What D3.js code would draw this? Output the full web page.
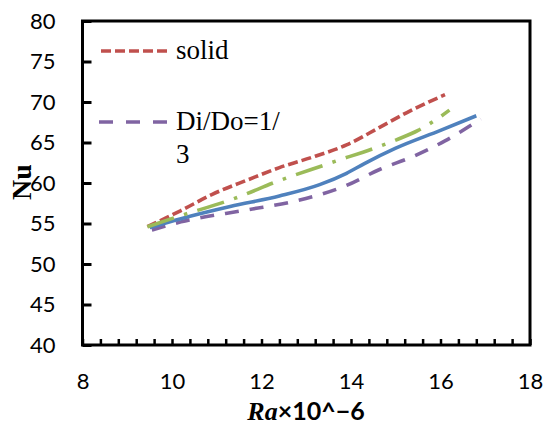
<!DOCTYPE html>
<html><head><meta charset="utf-8">
<script src="https://cdn.jsdelivr.net/npm/d3@7/dist/d3.min.js"></script>
<style>body{margin:0;background:#fff}svg{display:block}</style>
</head><body>
<script>
// Data
const xTicks = [8, 10, 12, 14, 16, 18];
const yTicks = [40, 45, 50, 55, 60, 65, 70, 75, 80];

const solidX = [9.45, 10.2, 10.9, 11.7, 12.4, 13.2, 13.9, 14.65, 15.25, 16.1];
const solidY = [54.6, 56.6, 58.6, 60.4, 61.9, 63.3, 64.7, 66.9, 68.7, 70.9];

const greenX = [9.45, 10.1, 11.4, 12.4, 13.5, 15.0, 15.5, 16.0, 16.2];
const greenY = [54.6, 55.8, 58.1, 60.3, 62.4, 65.3, 66.5, 68.2, 69.0];

const blueX = [9.5, 10.2, 11.3, 12.4, 13.3, 13.9, 14.3, 15.0, 16.0, 16.8];
const blueY = [54.5, 55.6, 57.1, 58.4, 59.8, 61.2, 62.4, 64.3, 66.5, 68.3];

const purpleX = [9.55, 10.2, 11.7, 12.7, 13.9, 14.65, 15.4, 16.1, 16.9];
const purpleY = [54.2, 55.2, 56.7, 57.7, 59.7, 61.7, 63.3, 65.2, 67.9];

const legendLabels = ["solid", "Di/Do=1/", "3"];

const W = 546, H = 437;
const m = {left: 82.5, top: 21, right: 530, bottom: 345};

const svg = d3.select("body").append("svg").attr("width", W).attr("height", H);

const x = d3.scaleLinear().domain([8, 18]).range([m.left, m.right]);
const y = d3.scaleLinear().domain([40, 80]).range([m.bottom, m.top]);

const zip = (xs, ys) => xs.map((v, i) => [v, ys[i]]);

const line = d3.line().x(d => x(d[0])).y(d => y(d[1])).curve(d3.curveMonotoneX);

const series = [
  {data: zip(purpleX, purpleY), color: "#8064A2", dash: "14,11"},
  {data: zip(blueX, blueY), color: "#4F81BD", dash: null},
  {data: zip(solidX, solidY), color: "#C0504D", dash: "10,4"},
  {data: zip(greenX, greenY), color: "#9BBB59", dash: "28,10.5,3.5,10.5"}
];

const g = svg.append("g");
series.forEach(s => {
  g.append("path").attr("d", line(s.data)).attr("fill", "none")
    .attr("stroke", s.color).attr("stroke-width", 3.6)
    .attr("stroke-dasharray", s.dash);
});

// plot border
svg.append("rect").attr("x", m.left).attr("y", m.top)
  .attr("width", m.right - m.left).attr("height", m.bottom - m.top)
  .attr("fill", "none").attr("stroke", "#000").attr("stroke-width", 3);

// Y axis (ticks inside)
const yAxis = d3.axisLeft(y).tickValues(yTicks).tickSize(-9).tickPadding(27).tickFormat(d3.format("d"));
const ya = svg.append("g").attr("transform", `translate(${m.left},0)`).call(yAxis);
ya.select(".domain").remove();
ya.selectAll(".tick line").attr("stroke", "#000").attr("stroke-width", 3);
ya.selectAll(".tick text").attr("font-family", "Lato, 'Open Sans', sans-serif")
  .attr("font-size", 22).attr("fill", "#000");

// X axis minor ticks inside, every 0.4
const minor = d3.range(0, 26).map(i => 8 + i * 0.4);
const xMinor = d3.axisBottom(x).tickValues(minor).tickSize(-6).tickFormat("");
const xm = svg.append("g").attr("transform", `translate(0,${m.bottom})`).call(xMinor);
xm.select(".domain").remove();
xm.selectAll(".tick line").attr("stroke", "#000").attr("stroke-width", 2.5);

const xAxis = d3.axisBottom(x).tickValues(xTicks).tickSize(0).tickPadding(28).tickFormat(d3.format("d"));
const xa = svg.append("g").attr("transform", `translate(0,${m.bottom})`).call(xAxis);
xa.select(".domain").remove();
xa.selectAll(".tick text").attr("font-family", "Lato, 'Open Sans', sans-serif")
  .attr("font-size", 22).attr("fill", "#000");

// axis titles
const xt = svg.append("text").attr("x", 306).attr("y", 420).attr("text-anchor", "middle")
  .attr("font-size", 26).attr("font-weight", "bold");
xt.append("tspan").attr("font-family", "'Liberation Serif', serif").attr("font-style", "italic").text("Ra");
xt.append("tspan").attr("font-family", "Lato, 'Open Sans', sans-serif").attr("font-size", 25).text("×10^−6");

svg.append("text").attr("transform", "translate(31,182) rotate(-90)")
  .attr("text-anchor", "middle").attr("font-family", "'Liberation Serif', serif")
  .attr("font-weight", "bold").attr("font-size", 28).text("Nu");

// legend
const lg = svg.append("g");
lg.append("line").attr("x1", 101).attr("x2", 168).attr("y1", 51).attr("y2", 51)
  .attr("stroke", "#C0504D").attr("stroke-width", 3.6).attr("stroke-dasharray", "10,4");
lg.append("text").attr("x", 176).attr("y", 59).attr("font-family", "'Liberation Serif', serif")
  .attr("font-size", 27).text(legendLabels[0]);
lg.append("line").attr("x1", 99).attr("x2", 168).attr("y1", 122).attr("y2", 122)
  .attr("stroke", "#8064A2").attr("stroke-width", 3.6).attr("stroke-dasharray", "14,13");
lg.append("text").attr("x", 176).attr("y", 130).attr("font-family", "'Liberation Serif', serif")
  .attr("font-size", 27).text(legendLabels[1]);
lg.append("text").attr("x", 176).attr("y", 163).attr("font-family", "'Liberation Serif', serif")
  .attr("font-size", 27).text(legendLabels[2]);
</script>
</body></html>
